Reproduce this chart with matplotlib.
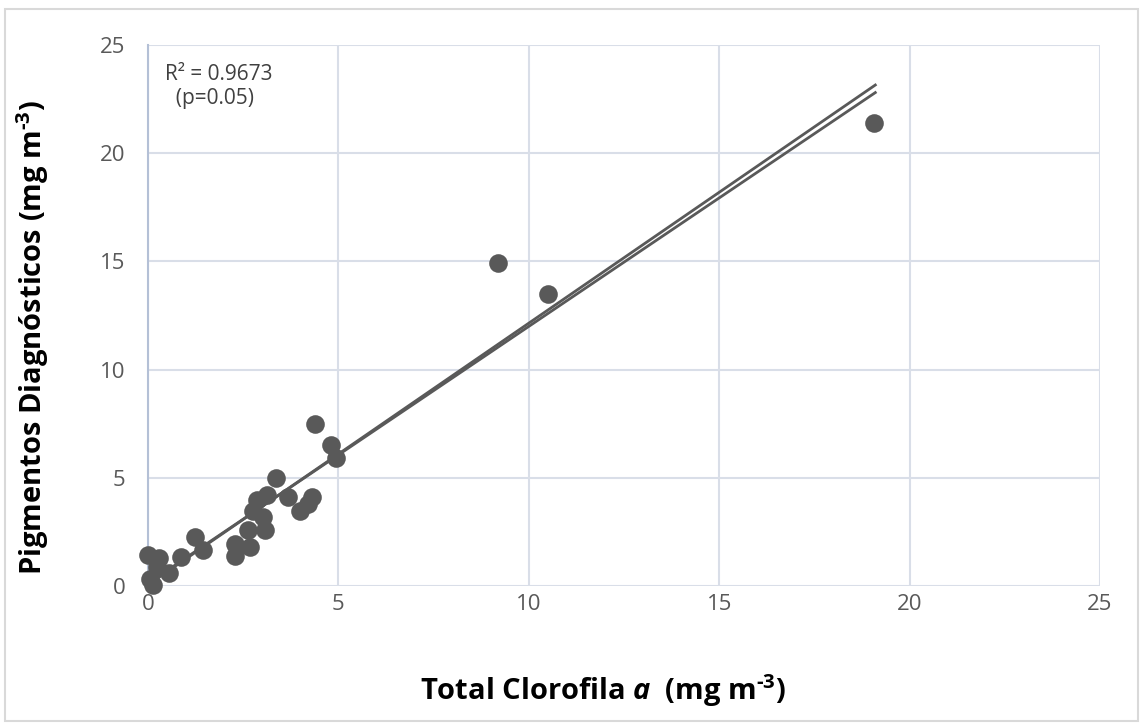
import matplotlib.pyplot as plt
from matplotlib.patches import Rectangle

plt.rcParams['font.family'] = ['Open Sans', 'DejaVu Sans']
plt.rcParams['mathtext.fontset'] = 'custom'
plt.rcParams['mathtext.rm'] = 'Open Sans:bold'
plt.rcParams['mathtext.bf'] = 'Open Sans:bold'
plt.rcParams['mathtext.it'] = 'Open Sans:italic:bold'
plt.rcParams['mathtext.bfit'] = 'Open Sans:italic:bold'

# total chlorophyll a vs diagnostic pigments (mg m-3)
chl_a = [0.0, 0.29, 0.05, 0.13, 0.24, 0.55, 0.87, 1.23, 1.44, 2.28, 2.28, 2.68,
         2.62, 3.07, 2.76, 3.02, 2.86, 3.12, 3.36, 3.67, 3.99, 4.3, 4.2,
         4.38, 4.8, 4.93, 9.19, 10.5, 19.06]
pigm = [1.45, 1.29, 0.3, 0.05, 0.88, 0.62, 1.34, 2.26, 1.68, 1.94, 1.38, 1.82,
        2.6, 2.6, 3.45, 3.2, 3.97, 4.2, 4.99, 4.12, 3.45, 4.12, 3.8,
        7.49, 6.52, 5.9, 14.92, 13.48, 21.38]

# two trendlines as drawn in the original
trend1_x = [0.0, 19.1]
trend1_y = [0.05, 23.15]
trend2_x = [0.0, 19.1]
trend2_y = [0.12, 22.8]

fig = plt.figure(figsize=(11.4, 7.23), dpi=100)
fig.patches.append(Rectangle((0.004, 0.003), 0.994, 0.984, transform=fig.transFigure,
                             fill=False, edgecolor='#d9d9d9', linewidth=1.5))
ax = fig.add_axes([0.1298, 0.1895, 0.8351, 0.7483])

ax.plot(trend1_x, trend1_y, color='#595959', linewidth=2, zorder=2)
ax.plot(trend2_x, trend2_y, color='#595959', linewidth=2, zorder=2)
ax.scatter(chl_a, pigm, s=180, color='#595959', zorder=3, linewidths=0, clip_on=False)

ax.set_xlim(0, 25)
ax.set_ylim(0, 25)
ax.set_xticks([0, 5, 10, 15, 20, 25])
ax.set_yticks([0, 5, 10, 15, 20, 25])
ax.grid(True, color='#d9dee8', linewidth=1.5)
ax.set_axisbelow(True)
for s in ['top', 'right', 'bottom']:
    ax.spines[s].set_visible(False)
ax.spines['left'].set_color('#b4c0d6')
ax.spines['left'].set_linewidth(1.5)
ax.tick_params(axis='x', length=0, labelsize=16, labelcolor='#595959', pad=6)
ax.tick_params(axis='y', length=0, labelsize=16, labelcolor='#595959', pad=16)

ax.text(0.45, 24.1, 'R² = 0.9673\n  (p=0.05)', fontsize=15, color='#404040',
        va='top', ha='left', linespacing=1.15)

ax.set_xlabel('Total Clorofila $\\mathit{a}$  (mg m$^{\\text{-}3}$)', fontsize=21,
              fontweight='bold')
ax.xaxis.set_label_coords(0.478, -0.16)
ax.set_ylabel('Pigmentos Diagnósticos (mg m$^{\\text{-}3}$)', fontsize=21,
              fontweight='bold')
ax.yaxis.set_label_coords(-0.102, 0.46)

plt.savefig('out.png', dpi=100)
